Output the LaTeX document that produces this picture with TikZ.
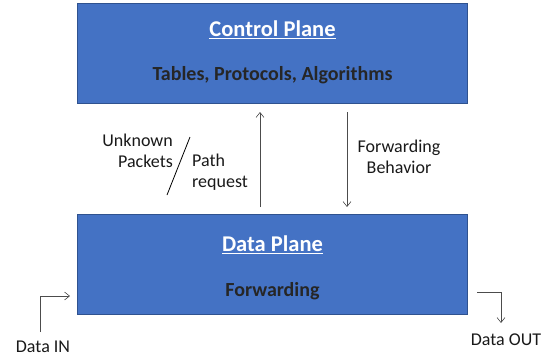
\documentclass[tikz,border=0pt]{standalone}
\usepackage{fontspec}
\setmainfont{Carlito}
\usetikzlibrary{arrows.meta}
\definecolor{boxfill}{HTML}{4472C4}
\definecolor{boxedge}{HTML}{2F528F}
\definecolor{darktext}{HTML}{262626}
\begin{document}
\begin{tikzpicture}[x=1pt,y=-1pt,
  plane/.style={draw=boxedge,line width=1pt,fill=boxfill,minimum width=390pt,minimum height=100pt,inner sep=0pt},
  titletext/.style={text=white,font=\bfseries\fontsize{22.5}{26}\selectfont},
  subtext/.style={text=darktext,font=\bfseries\fontsize{20}{24}\selectfont},
  lbl/.style={text=black!90,font=\fontsize{18}{20.5}\selectfont,inner sep=0pt},
  conn/.style={draw=black!70,line width=0.6pt,-{Straight Barb[length=5pt,width=8pt]}}
]
\useasboundingbox (0,0) rectangle (555,356);
\node[plane] (cp) at (272.5,53) {};
\node[titletext] (cpt) at (272.5,30) {\underline{Control Plane}};
\node[subtext] (cps) at (272.5,75) {Tables, Protocols, Algorithms};
\node[plane] (dp) at (272.5,264.5) {};
\node[titletext] (dpt) at (272.5,245) {\underline{Data Plane}};
\node[subtext] (dps) at (272.5,291) {Forwarding};
\coordinate (u1) at (260,207);
\coordinate (u2) at (260,112);
\draw[conn] (u1) -- (u2);
\coordinate (d1) at (347,112);
\coordinate (d2) at (347,207);
\draw[conn] (d1) -- (d2);
\node[lbl,align=right,anchor=east] (unk) at (173,151) {Unknown\\Packets};
\node[lbl,align=left,anchor=west] (pth) at (192,172) {Path\\request};
\coordinate (s1) at (190,137);
\coordinate (s2) at (167,195);
\draw[black,line width=0.8pt] (s1) -- (s2);
\node[lbl,align=center] (fb) at (399,157) {Forwarding\\Behavior};
\coordinate (i0) at (40,332);
\coordinate (i1) at (40,296);
\coordinate (i2) at (70,296);
\draw[conn] (i0) -- (i1) -- (i2);
\node[lbl] (din) at (43,347) {Data IN};
\coordinate (o0) at (477,292);
\coordinate (o1) at (501,292);
\coordinate (o2) at (501,323);
\draw[conn] (o0) -- (o1) -- (o2);
\node[lbl] (dout) at (506,340) {Data OUT};
\end{tikzpicture}
\end{document}
